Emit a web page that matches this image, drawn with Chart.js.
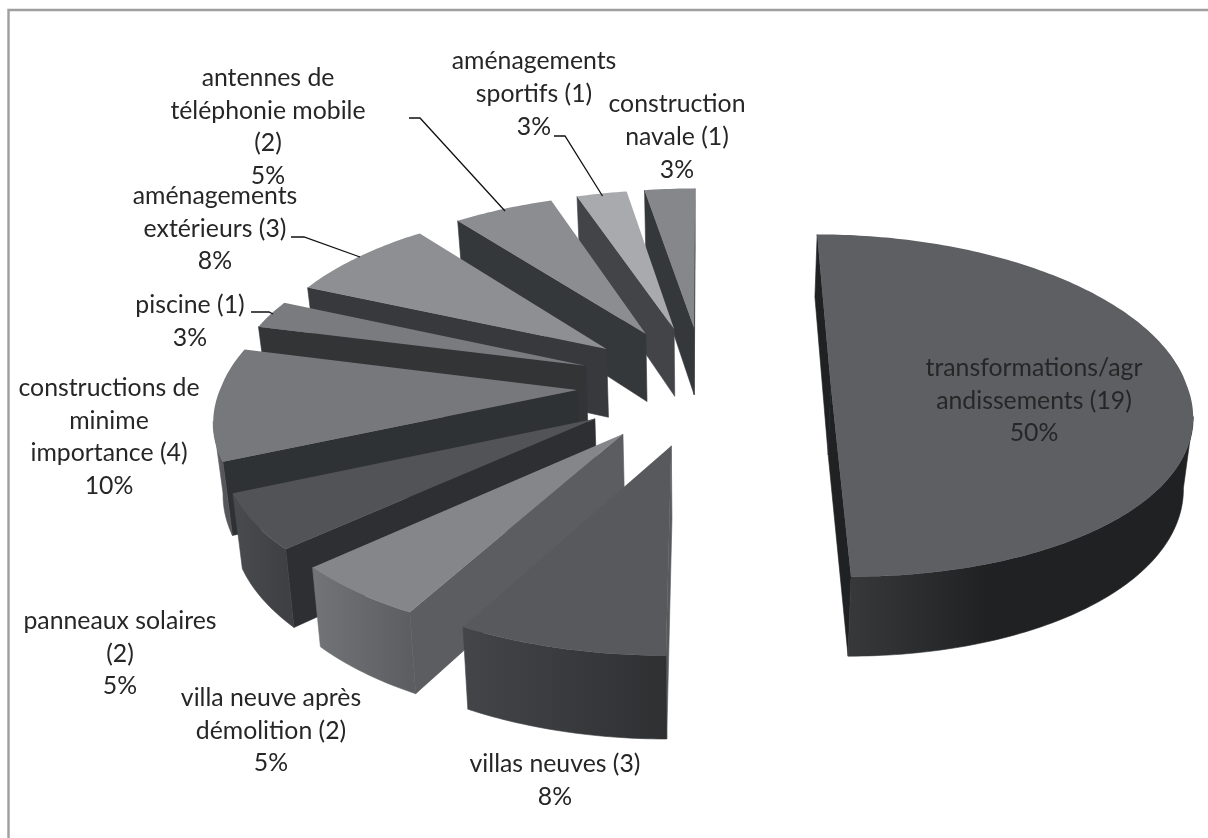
<!DOCTYPE html>
<html><head><meta charset="utf-8">
<script src="https://cdn.jsdelivr.net/npm/chart.js@4"></script>
<style>html,body{margin:0;padding:0;background:#fff}canvas{display:block}#w{position:relative;width:1208px;height:838px}</style>
</head><body><div id="w"><canvas id="c" width="1208" height="838"></canvas></div>
<script>
const categories = ["transformations/agrandissements","villas neuves","villa neuve après démolition","panneaux solaires","constructions de minime importance","piscine","aménagements extérieurs","antennes de téléphonie mobile","aménagements sportifs","construction navale"];
const counts = [19,3,2,2,4,1,3,2,1,1];
const percents = ["50%","8%","5%","5%","10%","3%","8%","5%","3%","3%"];
const labelLines = [
 ["transformations/agr","andissements (19)","50%"],
 ["villas neuves (3)","8%"],
 ["villa neuve après","démolition (2)","5%"],
 ["panneaux solaires","(2)","5%"],
 ["constructions de","minime","importance (4)","10%"],
 ["piscine (1)","3%"],
 ["aménagements","extérieurs (3)","8%"],
 ["antennes de","téléphonie mobile","(2)","5%"],
 ["aménagements","sportifs (1)","3%"],
 ["construction","navale (1)","3%"]
];
const faceColors = ["#5e5f63","#58595c","#85868a","#525356","#77787b","#7a7b7f","#8d8f92","#8b8d90","#a8aaad","#85878a"];
const radialColors = ["#202123","#58595c","#5c5d60","#2e2f32","#2f3234","#323436","#38393c","#35383a","#434447","#35383a"];
const outerColors = [["#36383a","#202123"],["#434548","#2f3032"],["#737477","#5d5e61"],["#4a4b4e","#3f4043"],["#6a6b6e","#55565a"],["#555","#555"],["#555","#555"],["#555","#555"],["#777","#777"],["#555","#555"]];
const labelAnchors = [[1034,368],[555,764],[271,698],[120,621],[109,388],[190,305],[215,196],[268,78],[534,61.5],[677,104.5]];
const leaders = [[[409,118],[420,118],[505,211]],[[554,136],[565,136],[602.5,196]],[[291,237],[304,237],[360,257]],[[251,312],[269,312],[273,314]]];

const CX=704, CY=385, R=365, EXPLODE=130, SQ=0.462, K=0.12/365, DEPTH=70, TAPER=0.98;
function proj(u,v){const w=1/(1-K*v),f=0.975+0.025*Math.min(1,Math.max(0,v)/450);return {x:CX+u*w*f,y:CY+SQ*v*w,w};}
function base(p){return {x:CX+(p.x-CX)*TAPER,y:p.y+DEPTH*p.w};}
function fillPoly(ctx,pts,col){ctx.beginPath();pts.forEach((p,j)=>j?ctx.lineTo(p.x,p.y):ctx.moveTo(p.x,p.y));ctx.closePath();ctx.fillStyle=col;ctx.strokeStyle=col;ctx.lineWidth=0.6;ctx.fill();ctx.stroke();}

const pie3d={id:'pie3d',
 beforeDatasetDraw(chart,args){
  const ctx=chart.ctx, arcs=chart.getDatasetMeta(0).data;
  const items=arcs.map((a,i)=>{
    const s=a.startAngle+Math.PI/2, e=a.endAngle+Math.PI/2, m=(s+e)/2;
    return {i,s,e,m,eu:EXPLODE*Math.sin(m),ev:-EXPLODE*Math.cos(m)};
  }).sort((a,b)=>a.ev-b.ev);
  for(const it of items){
    const apex=proj(it.eu,it.ev), rim=[], n=Math.max(8,Math.round((it.e-it.s)*60));
    for(let j=0;j<=n;j++){const t=it.s+(it.e-it.s)*j/n;rim.push(proj(it.eu+R*Math.sin(t),it.ev-R*Math.cos(t)));}
    [[apex,rim[0]],[rim[n],apex]].forEach(([a,b])=>{
      if(b.x-a.x>=0) return;
      fillPoly(ctx,[a,b,base(b),base(a)],radialColors[it.i]);
    });
    let run=[];
    const flush=()=>{ if(run.length>1){
      const xs=run.map(p=>p.x),g=ctx.createLinearGradient(Math.min(...xs),0,Math.max(...xs),0);
      g.addColorStop(0,outerColors[it.i][0]);g.addColorStop(it.i===0?0.4:1,outerColors[it.i][1]);g.addColorStop(1,outerColors[it.i][1]);
      fillPoly(ctx,run.concat(run.map(base).reverse()),g);
    } run=[]; };
    for(let j=0;j<n;j++){
      if(rim[j+1].x-rim[j].x<0){ if(!run.length) run.push(rim[j]); run.push(rim[j+1]); }
      else flush();
    }
    flush();
    const top=[apex].concat(rim);
    ctx.beginPath();top.forEach((p,j)=>j?ctx.lineTo(p.x,p.y):ctx.moveTo(p.x,p.y));ctx.closePath();
    ctx.fillStyle=chart.data.datasets[0].backgroundColor[it.i];ctx.fill();
  }
  return false;
 },
 afterDraw(chart){
  const ctx=chart.ctx;
  ctx.save();
  ctx.strokeStyle='#9f9f9f';ctx.lineWidth=2.4;
  ctx.beginPath();ctx.moveTo(8.5,838);ctx.lineTo(8.5,10);ctx.lineTo(1208,10);ctx.stroke();
  ctx.strokeStyle='#111';ctx.lineWidth=1.3;
  leaders.forEach(l=>{ctx.beginPath();l.forEach((p,i)=>i?ctx.lineTo(p[0],p[1]):ctx.moveTo(p[0],p[1]));ctx.stroke();});
  ctx.fillStyle='#262626';ctx.textAlign='center';ctx.textBaseline='middle';
  ctx.font='24.8px Lato';
  labelLines.forEach((ls,i)=>ls.forEach((t,j)=>ctx.fillText(t,labelAnchors[i][0],labelAnchors[i][1]+j*32.6)));
  ctx.restore();
 }
};
new Chart(document.getElementById('c'),{
 type:'pie',
 data:{labels:categories,datasets:[{data:counts,backgroundColor:faceColors,borderWidth:0}]},
 options:{responsive:false,animation:false,plugins:{legend:{display:false},tooltip:{enabled:false}}},
 plugins:[pie3d]
});
</script></body></html>
